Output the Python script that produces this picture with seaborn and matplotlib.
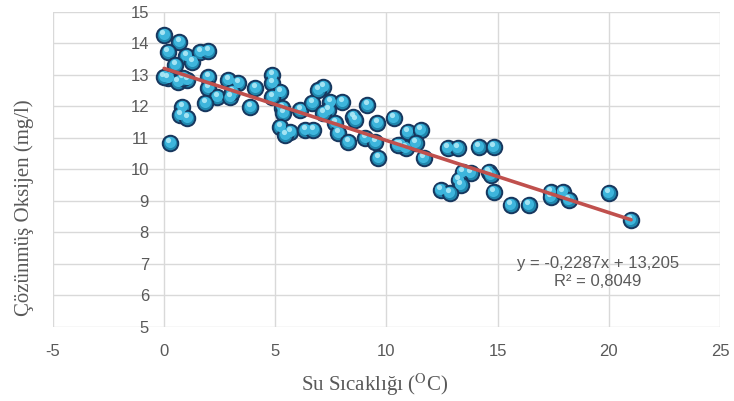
import numpy as np
import pandas as pd
import matplotlib
matplotlib.use('Agg')
import matplotlib.pyplot as plt
from matplotlib.transforms import offset_copy
import seaborn as sns

# ── Data (water temperature vs dissolved oxygen) ─────────────────────────────
temp = [0.0, 0.68, 0.18, 1.0, 1.26, 0.5, 1.62, 1.98, 0.18, 0.63, 1.04, 0.0, 0.85,
        0.81, 0.72, 1.04, 0.27,
        1.98, 1.98, 2.39, 1.85, 2.88, 3.33, 2.97, 3.06, 4.1, 3.87,
        4.86, 4.86, 5.23, 4.86, 5.32, 5.36, 5.23, 5.68, 5.45, 6.13, 6.35, 6.71,
        6.67, 7.16, 6.94, 7.48, 7.39, 7.16, 8.02, 7.7, 7.84, 8.29, 8.51, 8.6,
        9.14, 9.05, 9.59, 9.5, 9.64, 10.32, 10.63, 10.95, 10.86,
        11.53, 11.31, 11.67, 10.5, 12.75, 13.2, 14.14, 14.82, 13.42, 13.78,
        13.24, 13.33, 12.43, 12.84, 14.59, 14.68, 14.82, 15.59,
        16.4, 17.39, 17.39, 17.93, 18.2, 20.0, 21.0]
oxygen = [14.26, 14.04, 13.72, 13.59, 13.4, 13.3, 13.72, 13.75, 12.9, 12.77, 12.83, 12.93, 12.9,
          11.97, 11.72, 11.62, 10.83,
          12.92, 12.58, 12.29, 12.1, 12.83, 12.73, 12.29, 12.45, 12.58, 11.97,
          12.99, 12.74, 12.45, 12.29, 11.94, 11.78, 11.34, 11.18, 11.09, 11.88, 11.24, 11.24,
          12.1, 12.61, 12.52, 12.13, 11.88, 11.78, 12.13, 11.47, 11.15, 10.86, 11.66, 11.56,
          12.04, 10.99, 11.47, 10.86, 10.35, 11.63, 10.77, 11.18, 10.67,
          11.24, 10.83, 10.35, 10.77, 10.67, 10.67, 10.7, 10.7, 9.91, 9.88,
          9.66, 9.5, 9.34, 9.24, 9.91, 9.82, 9.28, 8.86,
          8.86, 9.27, 9.11, 9.27, 9.02, 9.24, 8.39]

slope = -0.2287
intercept = 13.205
r2_text = 'R² = 0,8049'
eq_text = 'y = -0,2287x + 13,205'

x_ticks = [-5, 0, 5, 10, 15, 20, 25]
y_ticks = [5, 6, 7, 8, 9, 10, 11, 12, 13, 14, 15]

df = pd.DataFrame({'temp': temp, 'oxygen': oxygen})

sns.set_style('white')
plt.rcParams['font.family'] = ['Liberation Sans', 'DejaVu Sans']
plt.rcParams['mathtext.fontset'] = 'stix'
plt.rcParams['axes.unicode_minus'] = False

fig = plt.figure(figsize=(7.34, 4.01), dpi=100)
ax = fig.add_axes([0.0722, 0.1845, 0.9087, 0.786])

grey = '#595959'
ax.set_xlim(-5, 25)
ax.set_ylim(5, 15)
ax.set_xticks(x_ticks)
ax.set_yticks(y_ticks)
ax.grid(True, color='#d9d9d9', linewidth=1.0)
ax.set_axisbelow(True)
for s in ax.spines.values():
    s.set_visible(False)
# y labels sit next to x = 0, like the Excel axis crossing
ax.spines['left'].set_position(('data', 0))
ax.tick_params(axis='both', length=0, labelsize=12, labelcolor=grey)
ax.tick_params(axis='x', pad=12)
ax.tick_params(axis='y', pad=11)

# sphere-like markers: base, body, highlight
sns.scatterplot(data=df, x='temp', y='oxygen', ax=ax, s=125, color='#1f86ad',
                edgecolor='#17375e', linewidth=1.4, zorder=3, legend=False)
body = offset_copy(ax.transData, fig=fig, x=-0.4, y=0.8, units='points')
ax.scatter(df['temp'], df['oxygen'], s=64, color='#3db5dc', linewidth=0,
           transform=body, zorder=4)
hl = offset_copy(ax.transData, fig=fig, x=-1.2, y=2.2, units='points')
ax.scatter(df['temp'], df['oxygen'], s=14, color='#b6ecf8', linewidth=0,
           alpha=0.85, transform=hl, zorder=5)

# linear trendline from the stated equation
xs = np.array([min(temp), max(temp)])
sns.lineplot(x=xs, y=slope * xs + intercept, ax=ax, color='#c0504d',
             linewidth=2.6, zorder=6)

ax.text(19.5, 6.72, eq_text + '\n' + r2_text, ha='center', va='center',
        fontsize=12, color=grey, linespacing=1.25)

ax.set_xlabel('Su Sıcaklığı ($^{\\mathrm{O}}$C)', fontsize=15, color=grey,
              family=['Liberation Serif', 'DejaVu Serif'])
ax.set_ylabel('Çözünmüş Oksijen (mg/l)', fontsize=15, color=grey,
              family=['Liberation Serif', 'DejaVu Serif'])
ax.xaxis.set_label_coords(0.483, -0.14)
ax.yaxis.set_label_coords(-0.028, 0.38)

plt.savefig('out.png', dpi=100)
plt.close()
